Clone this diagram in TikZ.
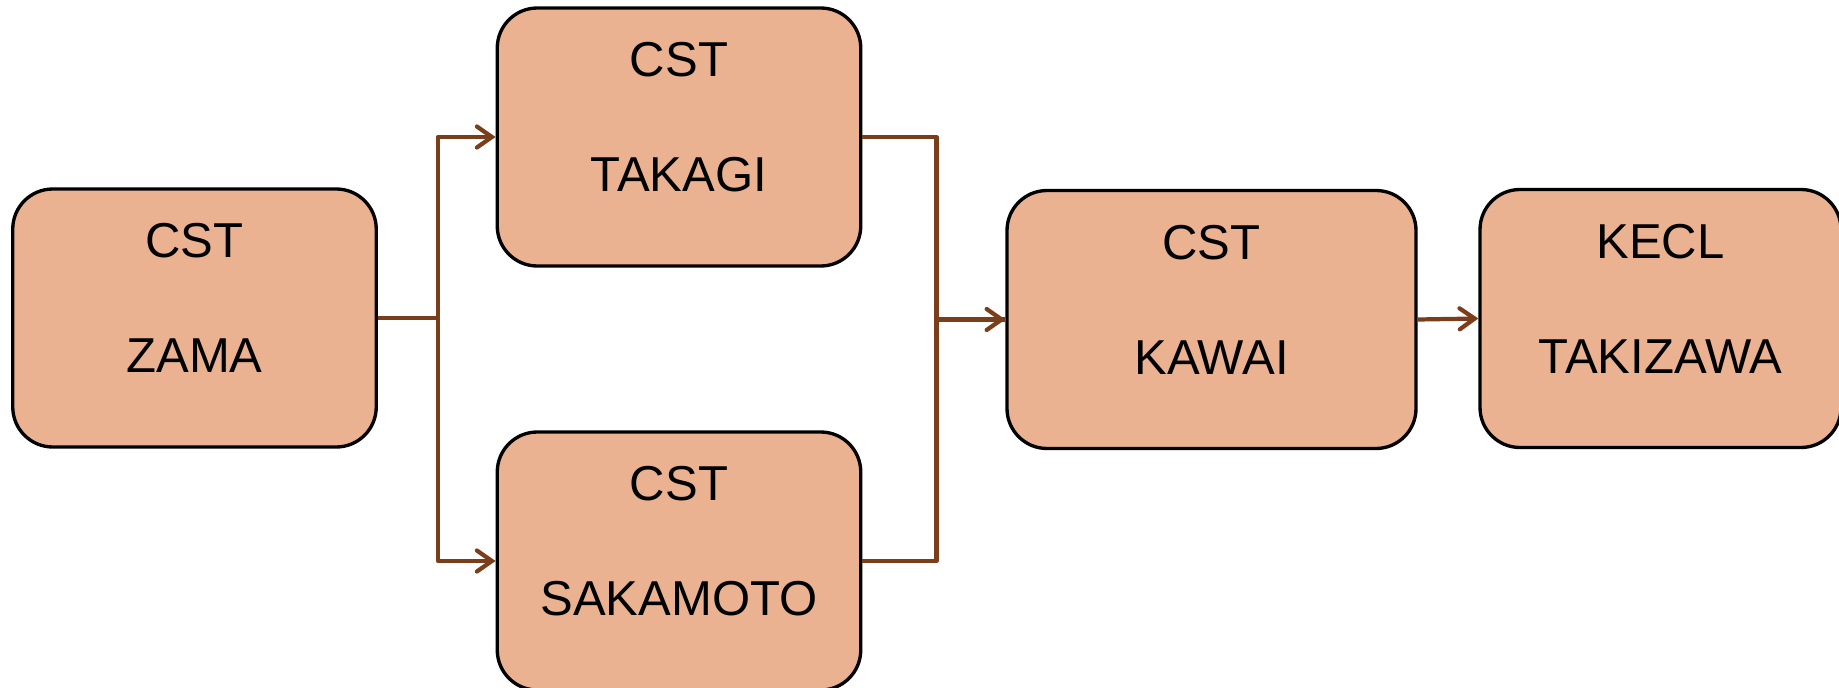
\documentclass[tikz,border=0pt]{standalone}
\usepackage{fontspec}
\setmainfont{Liberation Sans}
\usepackage{tikz}
\usetikzlibrary{arrows.meta}
\usetikzlibrary{positioning}
\definecolor{boxfill}{RGB}{235,178,146}
\definecolor{linkbrown}{RGB}{122,62,26}

\begin{document}
\begin{tikzpicture}[
    org/.style={draw=black, line width=1.9pt, fill=boxfill, rounded corners=0.8cm,
        minimum width=7.27cm, minimum height=5.16cm, inner sep=0pt},
    txt/.style={inner sep=0pt, font=\fontsize{27.9}{33}\selectfont},
    link/.style={draw=linkbrown, line width=2.4pt, line join=round,
        -{Straight Barb[length=0.3cm, width=0.42cm, line cap=round]}},
    bare/.style={draw=linkbrown, line width=2.4pt, line join=round}
]
\useasboundingbox (0,0) rectangle (36.78,-13.74);

% the boxes
\node[org] (zama) at (3.89,-6.36) {};
\node[org] (takagi) at (13.58,-2.74) {};
\node[org] (sakamoto) at (13.58,-11.22) {};
\node[org, minimum width=8.18cm] (kawai) at (24.23,-6.39) {};
\node[org, minimum width=7.22cm] (kecl) at (33.21,-6.37) {};

% two lines of text in each box
\foreach \n/\grp/\who in {zama/CST/ZAMA, takagi/CST/TAKAGI, sakamoto/CST/SAKAMOTO,
    kawai/CST/KAWAI, kecl/KECL/TAKIZAWA} {
    \node[txt] (\n-grp) at ([yshift=1.54cm]\n.center) {\grp};
    \node[txt] (\n-who) at ([yshift=-0.76cm]\n.center) {\who};
}

% split from ZAMA
\draw[link] (zama.east) -- ++(1.2,0) |- (takagi.west);
\draw[link] (zama.east) -- ++(1.2,0) |- (sakamoto.west);

% join into KAWAI
\draw[bare] (takagi.east) -- ++(1.48,0) |- (kawai.west);
\draw[link] (sakamoto.east) -- ++(1.48,0) |- (kawai.west);

\draw[link] (kawai.east) -- (kecl.west);

\end{tikzpicture}
\end{document}
